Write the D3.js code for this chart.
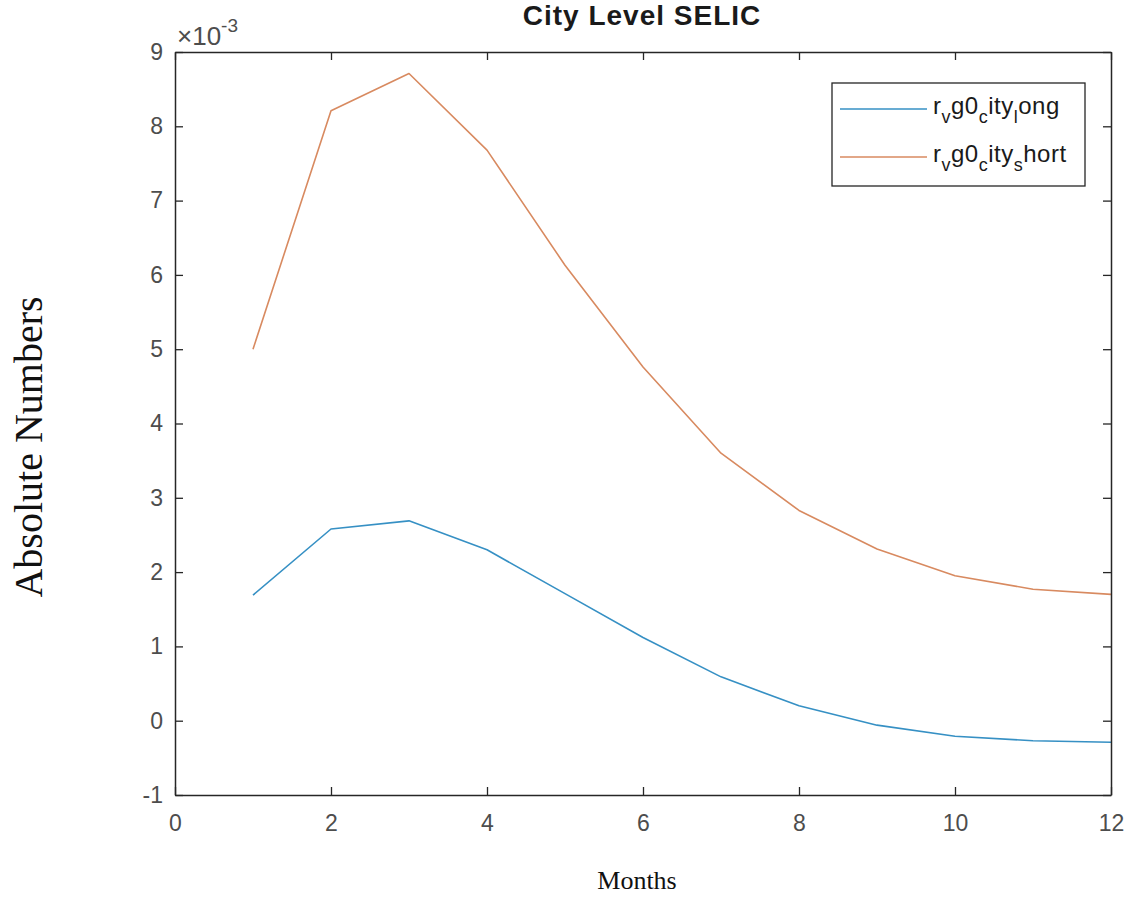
<!DOCTYPE html>
<html>
<head>
<meta charset="utf-8">
<script src="https://cdn.jsdelivr.net/npm/d3@7"></script>
<style>
  html, body { margin: 0; padding: 0; background: #fff; }
  svg { display: block; }
</style>
</head>
<body>
<svg id="chart" width="1138" height="899"></svg>
<script>
// ---- data (values are ×10^-3) ----
const months = [1, 2, 3, 4, 5, 6, 7, 8, 9, 10, 11, 12];
const cityLong  = [1.69, 2.58, 2.69, 2.30, 1.71, 1.12, 0.59, 0.20, -0.06, -0.21, -0.27, -0.29];
const cityShort = [5.00, 8.21, 8.71, 7.68, 6.13, 4.76, 3.60, 2.83, 2.31, 1.95, 1.77, 1.70];
const xTicks = [0, 2, 4, 6, 8, 10, 12];
const yTicks = [-1, 0, 1, 2, 3, 4, 5, 6, 7, 8, 9];
const seriesNames = [
  [["r", 0], ["v", 1], ["g0", 0], ["c", 1], ["ity", 0], ["l", 1], ["ong", 0]],
  [["r", 0], ["v", 1], ["g0", 0], ["c", 1], ["ity", 0], ["s", 1], ["hort", 0]]
];
const seriesColors = ["#3690c4", "#d88a60"];
const series = [cityLong, cityShort];

const svg = d3.select("#chart");
const plotLeft = 175, plotRight = 1111, plotTop = 52, plotBottom = 795;

const x = d3.scaleLinear().domain([0, 12]).range([plotLeft, plotRight]);
const y = d3.scaleLinear().domain([-1, 9]).range([plotBottom, plotTop]);

const axisColor = "#262626";
const tickColor = "#4d4d4d";
const sans = "'Liberation Sans', Arial, Helvetica, sans-serif";
const serif = "'Liberation Serif', 'Times New Roman', serif";
const fmt = d => String(d);

// lines
const line = d3.line().x((d, i) => x(months[i])).y(d => y(d));
series.forEach((s, k) => {
  svg.append("path").datum(s)
    .attr("fill", "none")
    .attr("stroke", seriesColors[k])
    .attr("stroke-width", 1.6)
    .attr("stroke-linejoin", "round")
    .attr("d", line);
});

// axes
function styleAxis(g) {
  g.selectAll("path.domain").attr("stroke", axisColor).attr("stroke-width", 1.5);
  g.selectAll(".tick line").attr("stroke", axisColor).attr("stroke-width", 1.3);
  g.selectAll(".tick text").attr("fill", tickColor).attr("font-family", sans).attr("font-size", 23);
}
const xAxis = svg.append("g").attr("transform", `translate(0,${plotBottom})`)
  .call(d3.axisBottom(x).tickValues(xTicks).tickFormat(fmt).tickSizeInner(-8).tickSizeOuter(0).tickPadding(20));
styleAxis(xAxis);
const xTop = svg.append("g").attr("transform", `translate(0,${plotTop})`)
  .call(d3.axisTop(x).tickValues(xTicks).tickFormat("").tickSizeInner(-8).tickSizeOuter(0));
styleAxis(xTop);
const yAxis = svg.append("g").attr("transform", `translate(${plotLeft},0)`)
  .call(d3.axisLeft(y).tickValues(yTicks).tickFormat(fmt).tickSizeInner(-8).tickSizeOuter(0).tickPadding(12));
styleAxis(yAxis);
const yRight = svg.append("g").attr("transform", `translate(${plotRight},0)`)
  .call(d3.axisRight(y).tickValues(yTicks).tickFormat("").tickSizeInner(-8).tickSizeOuter(0));
styleAxis(yRight);

// exponent label
const ex = svg.append("text").attr("x", 177).attr("y", 45)
  .attr("font-family", sans).attr("font-size", 26).attr("fill", tickColor);
ex.append("tspan").text("\u00d710");
ex.append("tspan").attr("font-size", 19).attr("dy", -13).text("-3");

// title
svg.append("text").attr("x", 642).attr("y", 25)
  .attr("text-anchor", "middle")
  .attr("font-family", sans).attr("font-weight", "bold").attr("font-size", 28)
  .attr("letter-spacing", 1)
  .attr("fill", "#1a1a1a").text("City Level SELIC");

// axis labels
svg.append("text").attr("x", 637).attr("y", 889)
  .attr("text-anchor", "middle").attr("font-family", serif).attr("font-size", 26)
  .attr("fill", "#111").text("Months");
svg.append("text")
  .attr("transform", `translate(42,447) rotate(-90)`)
  .attr("text-anchor", "middle").attr("font-family", serif).attr("font-size", 40)
  .attr("fill", "#111").text("Absolute Numbers");

// legend
const lg = svg.append("g");
lg.append("rect").attr("x", 832).attr("y", 83).attr("width", 253).attr("height", 103)
  .attr("fill", "#fff").attr("stroke", axisColor).attr("stroke-width", 1.3);
const legY = [109, 157];
seriesNames.forEach((parts, k) => {
  lg.append("line").attr("x1", 840).attr("x2", 927).attr("y1", legY[k]).attr("y2", legY[k])
    .attr("stroke", seriesColors[k]).attr("stroke-width", 1.6);
  const t = lg.append("text").attr("x", 933).attr("y", legY[k] + 5)
    .attr("font-family", sans).attr("font-size", 24).attr("letter-spacing", 0.5)
    .attr("fill", "#1a1a1a");
  let prevSub = 0;
  parts.forEach(([s, sub]) => {
    const dy = sub === prevSub ? 0 : (sub ? 9 : -9);
    t.append("tspan").attr("dy", dy).attr("font-size", sub ? 18 : 24).text(s);
    prevSub = sub;
  });
});
</script>
</body>
</html>
